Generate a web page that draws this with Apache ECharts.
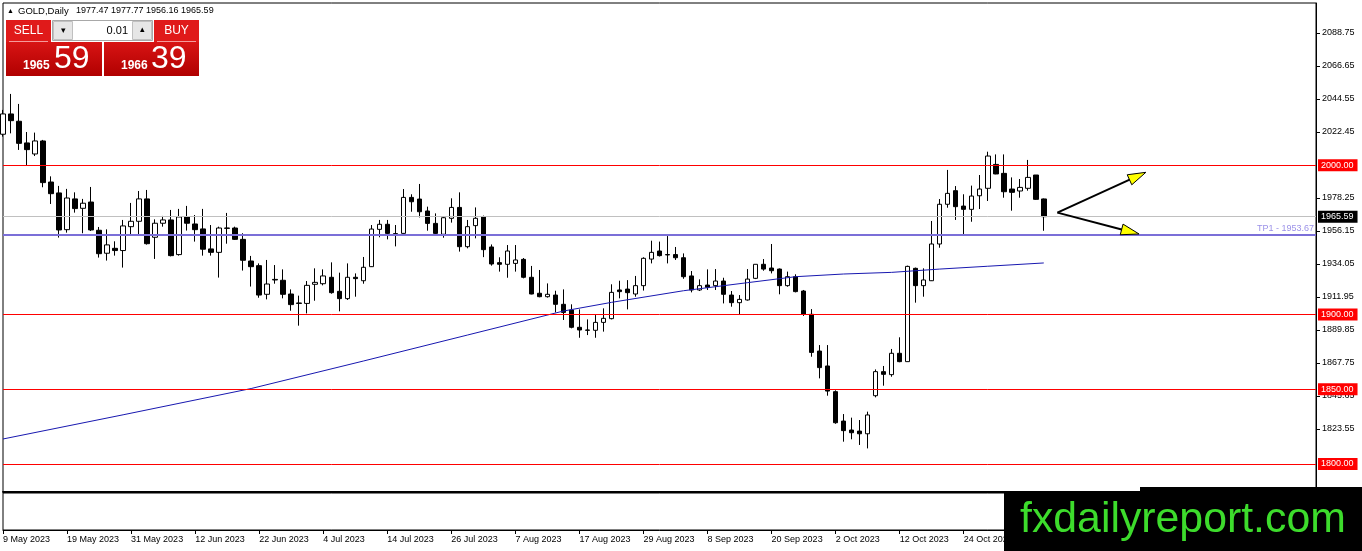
<!DOCTYPE html>
<html><head><meta charset="utf-8">
<script src="https://cdn.jsdelivr.net/npm/echarts@6/dist/echarts.min.js"></script>
<style>html,body{margin:0;padding:0;background:#fff;overflow:hidden}#c{width:1362px;height:551px}</style>
</head><body><div id="c"></div>
<script>
// ---- data ----
const tickLabels = ['9 May 2023','19 May 2023','31 May 2023','12 Jun 2023','22 Jun 2023','4 Jul 2023','14 Jul 2023','26 Jul 2023','7 Aug 2023','17 Aug 2023','29 Aug 2023','8 Sep 2023','20 Sep 2023','2 Oct 2023','12 Oct 2023','24 Oct 2023','3 Nov 2023'];
// [open, high, low, close]
const candles = [
[2020.8,2037.1,2019.2,2034.4],[2034.4,2047.8,2021.4,2029.9],[2029.5,2041.1,2010.3,2014.7],[2015.0,2022.3,2000.2,2010.5],
[2007.6,2021.9,2006.2,2016.3],[2016.3,2017.0,1985.3,1988.4],[1988.8,1992.6,1974.1,1981.0],[1981.5,1986.2,1951.6,1956.7],
[1956.9,1984.2,1954.9,1978.1],[1977.5,1981.9,1968.3,1971.0],[1971.2,1977.5,1954.5,1974.6],[1975.4,1985.5,1956.0,1956.7],
[1956.5,1958.7,1938.2,1940.8],[1941.1,1957.1,1936.2,1946.7],[1944.4,1949.1,1939.5,1942.9],[1942.9,1963.4,1931.5,1959.4],
[1958.9,1974.8,1952.9,1962.5],[1962.5,1982.8,1952.9,1977.5],[1977.5,1983.5,1946.9,1947.5],[1951.8,1963.8,1937.3,1961.2],
[1961.2,1966.1,1958.9,1963.4],[1963.4,1970.1,1939.0,1939.5],[1940.2,1970.8,1939.5,1965.4],[1965.4,1972.8,1956.3,1961.2],
[1960.7,1966.7,1948.9,1956.9],[1957.4,1970.8,1939.5,1943.8],[1944.0,1960.0,1939.5,1941.7],[1941.7,1958.9,1924.8,1958.0],
[1958.0,1968.1,1947.5,1957.8],[1958.0,1958.9,1950.0,1950.4],[1950.4,1954.5,1929.5,1936.4],[1935.9,1939.3,1918.8,1932.1],
[1932.8,1934.3,1911.3,1913.1],[1913.6,1936.6,1910.2,1920.5],[1923.6,1933.2,1920.7,1923.2],[1923.0,1930.3,1910.9,1913.6],
[1913.8,1916.9,1902.6,1906.7],[1907.8,1912.7,1892.6,1907.5],[1907.5,1922.5,1900.8,1919.6],[1920.3,1931.0,1909.3,1921.6],
[1920.7,1930.3,1919.6,1925.9],[1925.0,1935.0,1914.0,1914.7],[1915.6,1928.1,1902.2,1910.7],[1910.7,1934.3,1909.8,1925.0],
[1925.0,1927.6,1912.0,1924.1],[1922.7,1938.6,1920.7,1931.7],[1932.1,1960.0,1931.9,1957.3],[1957.1,1963.4,1951.8,1960.5],
[1960.5,1963.4,1950.4,1954.4],[1954.2,1960.0,1945.7,1954.0],[1954.4,1984.1,1954.2,1978.5],[1978.5,1980.6,1968.9,1975.6],
[1977.4,1987.5,1965.1,1968.9],[1969.4,1972.3,1956.2,1961.1],[1961.1,1967.8,1952.9,1954.4],[1953.8,1965.6,1951.5,1964.9],
[1964.5,1977.9,1961.6,1971.8],[1971.8,1981.9,1942.2,1945.5],[1945.5,1963.4,1944.4,1958.9],[1959.6,1971.8,1951.1,1964.5],
[1965.6,1966.3,1938.5,1943.5],[1945.3,1947.0,1932.8,1933.9],[1934.8,1938.4,1928.8,1933.7],[1933.7,1946.6,1924.7,1942.6],
[1934.3,1946.6,1928.8,1936.6],[1937.0,1937.9,1924.3,1925.0],[1925.0,1932.6,1913.6,1913.8],[1914.3,1929.9,1911.6,1912.0],
[1912.0,1920.9,1911.4,1913.6],[1913.1,1916.0,1901.5,1906.9],[1906.9,1916.9,1896.4,1901.5],[1903.1,1906.9,1890.8,1891.5],
[1891.5,1903.5,1884.5,1889.7],[1889.7,1896.8,1886.3,1889.5],[1889.5,1899.7,1884.5,1894.8],[1894.8,1904.2,1888.6,1897.5],
[1897.3,1920.3,1896.8,1914.9],[1916.5,1922.7,1910.9,1915.4],[1917.1,1923.1,1903.5,1914.7],[1913.8,1925.9,1912.0,1919.4],
[1919.4,1938.4,1916.1,1937.7],[1937.2,1949.5,1934.3,1941.7],[1942.6,1948.9,1938.9,1939.5],[1940.2,1952.6,1934.3,1940.0],
[1940.2,1945.3,1936.6,1938.1],[1938.1,1941.0,1924.0,1925.4],[1925.9,1929.2,1914.9,1916.5],[1916.5,1923.6,1915.8,1919.4],
[1919.8,1930.3,1916.5,1918.3],[1919.4,1930.5,1916.5,1922.5],[1922.5,1924.7,1907.5,1913.6],[1913.1,1915.8,1905.3,1908.0],
[1908.0,1913.1,1900.4,1910.2],[1909.8,1930.5,1909.4,1923.8],[1924.3,1933.7,1923.8,1933.7],[1933.7,1937.2,1929.4,1930.5],
[1931.2,1947.3,1927.6,1929.4],[1930.5,1930.9,1913.6,1919.4],[1919.4,1928.8,1918.7,1925.4],[1925.4,1927.0,1914.9,1915.4],
[1915.8,1916.5,1899.1,1900.2],[1900.2,1903.7,1871.8,1874.7],[1875.6,1879.6,1857.3,1864.5],[1865.6,1879.6,1845.7,1848.8],
[1848.4,1849.3,1826.9,1827.6],[1828.7,1833.4,1814.9,1822.3],[1822.7,1831.0,1816.5,1820.9],[1822.0,1829.4,1812.7,1820.2],
[1820.2,1835.0,1810.4,1832.8],[1845.7,1863.3,1844.6,1861.8],[1861.8,1865.6,1852.4,1860.0],[1859.8,1877.0,1858.4,1874.1],
[1874.1,1884.8,1868.1,1868.5],[1868.5,1932.8,1868.5,1932.3],[1931.0,1931.5,1908.0,1919.4],[1919.4,1931.0,1912.0,1923.2],
[1922.7,1962.7,1922.5,1947.3],[1947.3,1977.4,1944.8,1973.9],[1973.9,1996.9,1971.6,1981.2],[1983.0,1986.1,1963.4,1972.3],
[1972.7,1980.6,1952.9,1970.5],[1970.5,1986.4,1962.2,1979.4],[1979.6,1993.5,1970.7,1984.1],[1984.6,2009.1,1976.1,2006.2],
[2000.6,2007.3,1994.0,1994.2],[1994.6,2007.3,1978.3,1982.3],[1984.1,1991.9,1969.6,1981.9],[1982.8,1990.8,1978.3,1985.2],
[1984.6,2003.6,1983.0,1991.9],[1993.5,1993.5,1976.8,1977.2],[1977.47,1977.77,1956.16,1965.59]
];
// moving average read at points: [bar index, price]
const maPoints = [[0,1816.7],[15,1832.9],[31,1850.5],[45,1868.9],[58,1886.3],[70,1902.4],[76,1908.2],[85,1916.0],[93,1921.4],[99,1925.4],[105,1927.2],[111,1928.3],[117,1930.5],[123,1932.4],[130,1934.6]];
const priceTicks = [1823.55,1845.65,1867.75,1889.85,1911.95,1934.05,1956.15,1978.25,2022.45,2044.55,2066.65,2088.75];
const levels = [2000, 1900, 1850, 1800];
const currentPrice = 1965.59;
const tp1 = 1953.67;
const arrowFrom = [131.7, 1968.3];
const arrowTips = [[142.75, 1995.3],[141.9, 1954.0]];
const header = {symbol:'GOLD,Daily', ohlc:'1977.47 1977.77 1956.16 1965.59'};
const panel = {lot:'0.01', sellBig:'1965', sellSmall:'59', buyBig:'1966', buySmall:'39'};
const totalSlots = 165;

// ---- chart ----
const FONT = '"Liberation Sans", Arial, sans-serif';
const cats = Array.from({length: totalSlots}, (_, i) => 'b' + i);
const chart = echarts.init(document.getElementById('c'), null, {renderer:'canvas'});

const levelLines = levels.map(v => ({
  yAxis: v,
  lineStyle: {color:'#ff0000', width:1, type:'solid', opacity:1},
  label: {show:true, position:'end', formatter: v.toFixed(2), backgroundColor:'#ff0000', color:'#fff',
          padding:[1,4,1,3], distance:2, fontSize:9, fontFamily:FONT, lineHeight:10}
}));
const markData = [
  ...levelLines,
  {yAxis: currentPrice, lineStyle:{color:'#c0c0c0', width:1, type:'solid'},
   label:{show:true, position:'end', formatter: currentPrice.toFixed(2), backgroundColor:'#000', color:'#fff',
          padding:[1,4,1,3], distance:2, fontSize:9, fontFamily:FONT, lineHeight:10}},
  {yAxis: tp1, lineStyle:{color:'#7b6fd8', width:2, type:'solid'},
   label:{show:true, position:'insideEndTop', formatter: 'TP1 - ' + tp1.toFixed(2), color:'#9b91e8',
          distance:[2,1], fontSize:9, fontFamily:FONT}}
];

const option = {
  animation: false,
  backgroundColor: '#fff',
  grid: [
    {left:3, top:3, width:1313, height:489, show:true, borderColor:'#000', borderWidth:1, backgroundColor:'#fff'},
    {left:3, top:493, width:1313, height:37, show:true, borderColor:'#000', borderWidth:1}
  ],
  xAxis: [
    {type:'category', gridIndex:0, data:cats, boundaryGap:false,
     axisLine:{show:true, onZero:false, lineStyle:{color:'#000', width:2}}, axisTick:{show:false}, axisLabel:{show:false}, splitLine:{show:false}},
    {type:'value', gridIndex:0, min:0, max:totalSlots-1, show:false},
    {type:'category', gridIndex:1, data:cats, boundaryGap:false,
     axisLine:{show:true, onZero:false, lineStyle:{color:'#000', width:1}},
     axisTick:{show:true, interval:7, length:4, lineStyle:{color:'#000'}},
     axisLabel:{show:true, interval:7, align:'left', margin:5, fontSize:9, fontFamily:FONT, color:'#000',
                formatter:(v, i) => tickLabels[i/8] || ''},
     splitLine:{show:false}}
  ],
  yAxis: [
    {type:'value', gridIndex:0, position:'right', min:1781.2, max:2108.7,
     axisLine:{show:true, onZero:false, lineStyle:{color:'#000'}},
     axisTick:{show:true, length:4, customValues:priceTicks, lineStyle:{color:'#000'}},
     axisLabel:{show:true, customValues:priceTicks, formatter:v => Number(v).toFixed(2), margin:6, fontSize:9, fontFamily:FONT, color:'#000'},
     splitLine:{show:false}},
    {type:'value', gridIndex:1, position:'right', min:0, max:1,
     axisLine:{show:true, onZero:false, lineStyle:{color:'#000'}}, axisTick:{show:false}, axisLabel:{show:false}, splitLine:{show:false}}
  ],
  series: [
    {type:'candlestick', xAxisIndex:0, yAxisIndex:0, barWidth:5,
     data: candles.map(c => [c[0], c[3], c[2], c[1]]),
     itemStyle:{color:'#fff', color0:'#000', borderColor:'#000', borderColor0:'#000', borderColorDoji:'#000', borderWidth:1},
     markLine:{silent:true, symbol:['none','none'], animation:false, data: markData}
    },
    {type:'line', xAxisIndex:1, yAxisIndex:0, data: maPoints, showSymbol:false, symbol:'none', z:4,
     lineStyle:{color:'#1818b0', width:1}},
    {type:'custom', xAxisIndex:1, yAxisIndex:0, z:6,
     data: arrowTips.map(t => [arrowFrom[0], arrowFrom[1], t[0], t[1]]),
     encode:{x:[0,2], y:[1,3]},
     renderItem:(params, api) => {
       const p0 = api.coord([api.value(0), api.value(1)]);
       const p1 = api.coord([api.value(2), api.value(3)]);
       const dx = p1[0]-p0[0], dy = p1[1]-p0[1];
       const len = Math.hypot(dx, dy), ux = dx/len, uy = dy/len;
       const L = 18, W = 5.5;
       const bx = p1[0]-ux*L, by = p1[1]-uy*L;
       return {type:'group', children:[
         {type:'line', shape:{x1:p0[0], y1:p0[1], x2:bx+ux*2, y2:by+uy*2}, style:{stroke:'#000', lineWidth:2}},
         {type:'polygon', shape:{points:[[p1[0],p1[1]],[bx-uy*W, by+ux*W],[bx+uy*W, by-ux*W]]},
          style:{fill:'#ffff00', stroke:'#000', lineWidth:1}}
       ]};
     }
    }
  ],
  graphic: [
    // header text
    {type:'text', z:100, style:{x:7, y:11, text:'▲', font:'7px ' + FONT, fill:'#000', verticalAlign:'middle'}},
    {type:'text', z:100, style:{x:18, y:11, text:header.symbol, font:'9.5px ' + FONT, fill:'#000', verticalAlign:'middle'}},
    {type:'text', z:100, style:{x:76, y:11, text:header.ohlc, font:'9px ' + FONT, fill:'#000', verticalAlign:'middle'}},
    // sell / buy buttons
    {type:'rect', z:100, shape:{x:6, y:20, width:45, height:22}, style:{fill:'#e01a1a'}},
    {type:'rect', z:100, shape:{x:154, y:20, width:45, height:22}, style:{fill:'#e01a1a'}},
    {type:'line', z:101, shape:{x1:9, y1:41.5, x2:48, y2:41.5}, style:{stroke:'#f59a9a', lineWidth:1}},
    {type:'line', z:101, shape:{x1:157, y1:41.5, x2:196, y2:41.5}, style:{stroke:'#f59a9a', lineWidth:1}},
    {type:'text', z:101, style:{x:28.5, y:31, text:'SELL', font:'12px ' + FONT, fill:'#fff', align:'center', verticalAlign:'middle'}},
    {type:'text', z:101, style:{x:176.5, y:31, text:'BUY', font:'12px ' + FONT, fill:'#fff', align:'center', verticalAlign:'middle'}},
    // lot box
    {type:'rect', z:100, shape:{x:52.5, y:20.5, width:100, height:20}, style:{fill:'#fff', stroke:'#a8a8a8'}},
    {type:'rect', z:101, shape:{x:53.5, y:21.5, width:19, height:18}, style:{fill:'#e6e6e6', stroke:'#c0c0c0'}},
    {type:'rect', z:101, shape:{x:132.5, y:21.5, width:19, height:18}, style:{fill:'#e6e6e6', stroke:'#c0c0c0'}},
    {type:'text', z:102, style:{x:63, y:30.5, text:'▾', font:'9px ' + FONT, fill:'#000', align:'center', verticalAlign:'middle'}},
    {type:'text', z:102, style:{x:142, y:30, text:'▴', font:'9px ' + FONT, fill:'#000', align:'center', verticalAlign:'middle'}},
    {type:'text', z:102, style:{x:128, y:31, text:panel.lot, font:'11px ' + FONT, fill:'#000', align:'right', verticalAlign:'middle'}},
    // price blocks
    {type:'rect', z:100, shape:{x:6, y:42, width:96, height:34},
     style:{fill:new echarts.graphic.LinearGradient(0,0,0,1,[{offset:0,color:'#d81414'},{offset:1,color:'#b00000'}])}},
    {type:'rect', z:100, shape:{x:104, y:42, width:95, height:34},
     style:{fill:new echarts.graphic.LinearGradient(0,0,0,1,[{offset:0,color:'#d81414'},{offset:1,color:'#b00000'}])}},
    {type:'text', z:101, style:{x:23, y:65.5, text:panel.sellBig, font:'bold 12px ' + FONT, fill:'#fff', verticalAlign:'middle'}},
    {type:'text', z:101, style:{x:54, y:59.5, text:panel.sellSmall, font:'32px ' + FONT, fill:'#fff', verticalAlign:'middle'}},
    {type:'text', z:101, style:{x:121, y:65.5, text:panel.buyBig, font:'bold 12px ' + FONT, fill:'#fff', verticalAlign:'middle'}},
    {type:'text', z:101, style:{x:151, y:59.5, text:panel.buySmall, font:'32px ' + FONT, fill:'#fff', verticalAlign:'middle'}},
    // watermark
    {type:'rect', z:200, shape:{x:1004, y:491, width:358, height:60}, style:{fill:'#000'}},
    {type:'rect', z:200, shape:{x:1140, y:487, width:222, height:5}, style:{fill:'#000'}},
    {type:'text', z:201, style:{x:1020, y:520, text:'fxdailyreport.com', font:'42.8px ' + FONT, fill:'#3ddc2c', verticalAlign:'middle'}}
  ]
};
chart.setOption(option);
</script>
</body></html>
